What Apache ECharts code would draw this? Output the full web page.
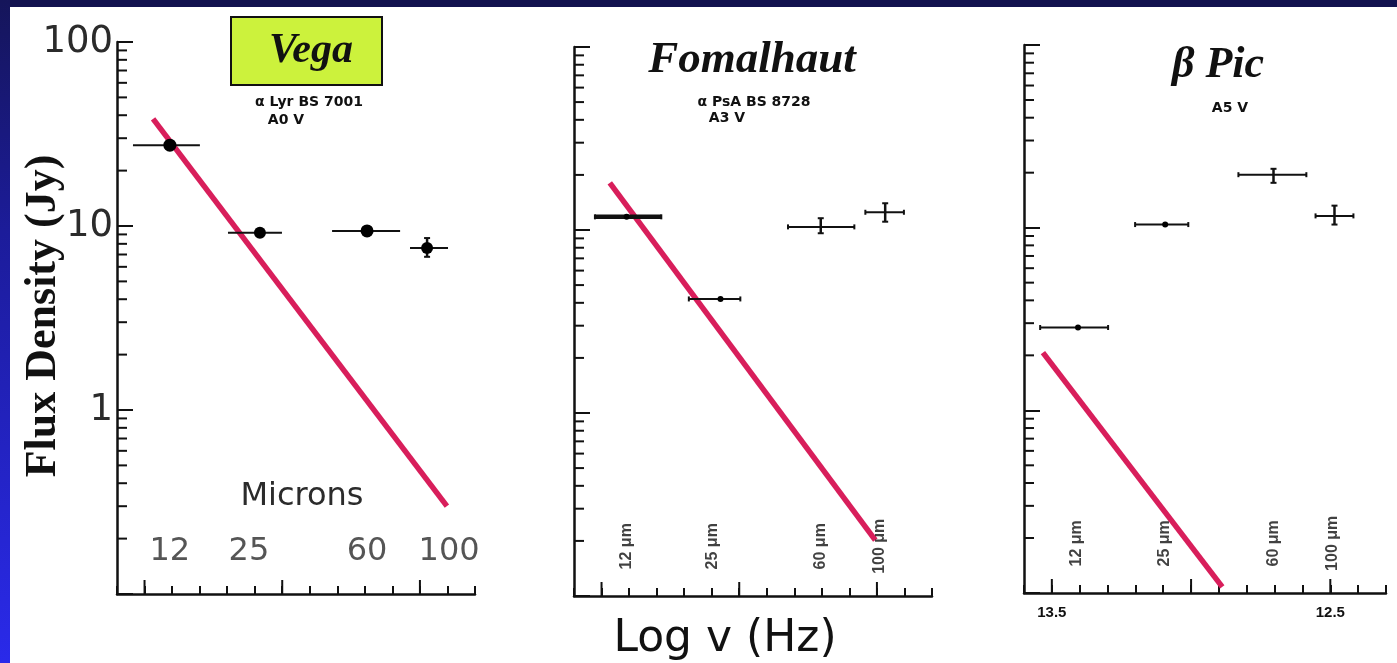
<!DOCTYPE html>
<html><head><meta charset="utf-8">
<script src="https://cdn.jsdelivr.net/npm/echarts@6/dist/echarts.min.js"></script>
<style>html,body{margin:0;padding:0;background:#fff;overflow:hidden}#c{width:1397px;height:663px}</style>
</head><body><div id="c"></div>
<script>
// ---------------- DATA ----------------
// x: log10 frequency (Hz), decreasing to the right; y: flux density (Jy), log scale
const xMin = 12.3, xMax = 13.6;
const yMin = 0.1, yMax = 100;
const yMinorTickValues = [0.2,0.3,0.4,0.5,0.6,0.7,0.8,0.9, 2,3,4,5,6,7,8,9, 20,30,40,50,60,70,80,90];
const xMajorTickValues = [13.5, 13.0, 12.5];
const xLabelValues = [13.5, 12.5];
const xLabelTexts = ['13.5', '12.5'];

const bandLabels = ['12 μm', '25 μm', '60 μm', '100 μm'];
const bandLogNu = [13.41, 13.095, 12.705, 12.49];
const bandLabelFlux = 0.187;

const micronLabels = ['12', '25', '60', '100'];
const micronLabelLogNu = [13.408, 13.121, 12.692, 12.394];
const micronLabelFlux = 0.169;

// Vega
const vegaLogNu      = [13.408, 13.081, 12.692, 12.474];
const vegaLogNuLeft  = [13.542, 13.197, 12.819, 12.536];
const vegaLogNuRight = [13.299, 13.001, 12.572, 12.398];
const vegaFlux       = [27.5, 9.2, 9.4, 7.6];
const vegaFluxLow    = [27.5, 9.2, 9.4, 6.8];
const vegaFluxHigh   = [27.5, 9.2, 9.4, 8.6];
const vegaModelLogNu = [13.469, 12.402];
const vegaModelFlux  = [38.2, 0.30];

// Fomalhaut
const fomLogNu      = [13.409, 13.068, 12.704, 12.470];
const fomLogNuLeft  = [13.524, 13.183, 12.823, 12.542];
const fomLogNuRight = [13.283, 12.996, 12.582, 12.402];
const fomFlux       = [11.8, 4.2, 10.4, 12.5];
const fomFluxLow    = [11.8, 4.2, 9.6, 11.1];
const fomFluxHigh   = [11.8, 4.2, 11.6, 14.0];
const fomModelLogNu = [13.470, 12.506];
const fomModelFlux  = [18.1, 0.202];

// beta Pic
const picLogNu      = [13.406, 13.093, 12.704, 12.485];
const picLogNuLeft  = [13.542, 13.201, 12.830, 12.553];
const picLogNuRight = [13.298, 13.010, 12.586, 12.417];
const picFlux       = [2.84, 10.4, 19.5, 11.6];
const picFluxLow    = [2.84, 10.4, 17.6, 10.4];
const picFluxHigh   = [2.84, 10.4, 21.0, 13.2];
const picModelLogNu = [13.532, 12.888];
const picModelFlux  = [2.07, 0.108];

// ---------------- STYLE ----------------
const INK = '#111';
const GREY = '#2b2b2b';
const RED = '#d81e5b';
const dotSizes = { vega: [13, 12, 13, 12], fom: [6, 6, 0, 0], pic: [6, 6, 0, 0] };
const barWidths = { vega: [2, 2, 2, 2], fom: [4.5, 2, 2, 2], pic: [2, 2, 2, 2] };

function errSeries(idx, c, l, r, f, fl, fh, widths, caps) {
  return {
    type: 'custom', xAxisIndex: idx, yAxisIndex: idx, z: 4, silent: true,
    data: c.map((_, i) => [l[i], r[i], f[i], fl[i], fh[i], i]),
    encode: { x: [0, 1], y: [2, 3, 4] },
    renderItem: (params, api) => {
      const i = api.value(5);
      const y = api.value(2);
      const p1 = api.coord([api.value(0), y]);
      const p2 = api.coord([api.value(1), y]);
      const ch = [{ type: 'line', shape: { x1: p1[0], y1: p1[1], x2: p2[0], y2: p2[1] }, style: { stroke: INK, lineWidth: widths[i] } }];
      if (caps) {
        [p1, p2].forEach(p => ch.push({ type: 'line', shape: { x1: p[0], y1: p[1] - 2.5, x2: p[0], y2: p[1] + 2.5 }, style: { stroke: INK, lineWidth: 2 } }));
      }
      const lo = api.value(3), hi = api.value(4);
      if (lo !== hi) {
        const q1 = api.coord([c[i], lo]), q2 = api.coord([c[i], hi]);
        ch.push({ type: 'line', shape: { x1: q1[0], y1: q1[1], x2: q2[0], y2: q2[1] }, style: { stroke: INK, lineWidth: 2.5 } });
        [q1, q2].forEach(q => ch.push({ type: 'line', shape: { x1: q[0] - 3, y1: q[1], x2: q[0] + 3, y2: q[1] }, style: { stroke: INK, lineWidth: 2 } }));
      }
      return { type: 'group', children: ch };
    }
  };
}
function dotSeries(idx, c, f, sizes) {
  return {
    type: 'scatter', xAxisIndex: idx, yAxisIndex: idx, z: 5, silent: true,
    data: c.map((x, i) => [x, f[i]]),
    symbol: 'circle',
    symbolSize: (v, p) => sizes[p.dataIndex],
    itemStyle: { color: '#000', opacity: 1 }
  };
}
function modelSeries(idx, xs, ys) {
  return {
    type: 'line', xAxisIndex: idx, yAxisIndex: idx, z: 3, silent: true,
    data: xs.map((x, i) => [x, ys[i]]),
    showSymbol: false, symbol: 'none',
    lineStyle: { color: RED, width: 5.5, cap: 'butt' }
  };
}
function minorTickSeries(idx) {
  const data = yMinorTickValues.map(v => [xMax, v, 0]).concat(xMajorTickValues.map(v => [v, yMin, 1]));
  return {
    type: 'custom', xAxisIndex: idx, yAxisIndex: idx, z: 6, silent: true,
    data, encode: { x: 0, y: 1 },
    renderItem: (params, api) => {
      const p = api.coord([api.value(0), api.value(1)]);
      const kind = api.value(2);
      const shape = kind === 0
        ? { x1: p[0], y1: p[1], x2: p[0] + 10, y2: p[1] }
        : { x1: p[0], y1: p[1], x2: p[0], y2: p[1] - 14 };
      return { type: 'line', shape, style: { stroke: INK, lineWidth: 2 } };
    }
  };
}
function bandLabelSeries(idx) {
  return {
    type: 'scatter', xAxisIndex: idx, yAxisIndex: idx, z: 5, silent: true,
    symbolSize: 0,
    data: bandLogNu.map((x, i) => [x, bandLabelFlux, bandLabels[i]]),
    label: { show: true, position: 'inside', rotate: 90, formatter: p => p.value[2],
      fontFamily: 'Liberation Sans', fontWeight: 'bold', fontSize: 16, color: INK }
  };
}

const grids = [
  { left: 117, top: 42, width: 358, height: 552, outerBoundsMode: 'none', containLabel: false },
  { left: 574, top: 47, width: 358, height: 549, outerBoundsMode: 'none', containLabel: false },
  { left: 1024, top: 45, width: 362, height: 548, outerBoundsMode: 'none', containLabel: false }
];
const xAxes = grids.map((g, i) => ({
  type: 'value', gridIndex: i, inverse: true, min: xMin, max: xMax, interval: 0.1,
  axisLine: { show: true, lineStyle: { color: INK, width: 2.5 } },
  axisTick: { show: true, inside: true, length: 8, lineStyle: { color: INK, width: 2 } },
  splitLine: { show: false },
  axisLabel: {
    show: i === 2, margin: 12, fontFamily: 'Liberation Sans', fontWeight: 'bold', fontSize: 15, color: INK,
    showMinLabel: true, showMaxLabel: true, hideOverlap: false,
    formatter: v => { const k = xLabelValues.findIndex(t => Math.abs(t - v) < 1e-6); return k >= 0 ? xLabelTexts[k] : ''; }
  }
}));
const yAxes = grids.map((g, i) => ({
  type: 'log', gridIndex: i, logBase: 10, min: yMin, max: yMax,
  axisLine: { show: true, lineStyle: { color: INK, width: 2.5 } },
  axisTick: { show: true, inside: true, length: 16, lineStyle: { color: INK, width: 2 } },
  splitLine: { show: false },
  axisLabel: {
    show: i === 0, margin: 4, fontFamily: 'DejaVu Sans', fontSize: 37, color: GREY,
    showMinLabel: true, showMaxLabel: true,
    formatter: v => (v >= 1 ? String(Math.round(v)) : '')
  }
}));

function txt(x, y, text, font, fill, rotation) {
  return { type: 'text', x, y, silent: true, rotation: rotation || 0,
    style: { text, font, fill: fill || INK, align: 'center', verticalAlign: 'middle', textAlign: 'center', textVerticalAlign: 'middle' } };
}

const option = {
  backgroundColor: '#ffffff',
  animation: false,
  grid: grids,
  xAxis: xAxes,
  yAxis: yAxes,
  series: [
    modelSeries(0, vegaModelLogNu, vegaModelFlux),
    errSeries(0, vegaLogNu, vegaLogNuLeft, vegaLogNuRight, vegaFlux, vegaFluxLow, vegaFluxHigh, barWidths.vega, false),
    dotSeries(0, vegaLogNu, vegaFlux, dotSizes.vega),
    minorTickSeries(0),
    {
      type: 'scatter', xAxisIndex: 0, yAxisIndex: 0, z: 5, silent: true, symbolSize: 0,
      data: micronLabelLogNu.map((x, i) => [x, micronLabelFlux, micronLabels[i]]),
      label: { show: true, position: 'inside', formatter: p => p.value[2],
        fontFamily: 'DejaVu Sans', fontSize: 32, color: GREY }
    },

    modelSeries(1, fomModelLogNu, fomModelFlux),
    errSeries(1, fomLogNu, fomLogNuLeft, fomLogNuRight, fomFlux, fomFluxLow, fomFluxHigh, barWidths.fom, true),
    dotSeries(1, fomLogNu, fomFlux, dotSizes.fom),
    minorTickSeries(1),
    bandLabelSeries(1),

    modelSeries(2, picModelLogNu, picModelFlux),
    errSeries(2, picLogNu, picLogNuLeft, picLogNuRight, picFlux, picFluxLow, picFluxHigh, barWidths.pic, true),
    dotSeries(2, picLogNu, picFlux, dotSizes.pic),
    minorTickSeries(2),
    bandLabelSeries(2)
  ],
  graphic: [
    { type: 'rect', silent: true, shape: { x: 0, y: 0, width: 1397, height: 7 }, style: { fill: '#12124f' }, z: 10 },
    { type: 'rect', silent: true, shape: { x: 0, y: 0, width: 10, height: 663 }, z: 10,
      style: { fill: { type: 'linear', x: 0, y: 0, x2: 0, y2: 1, colorStops: [
        { offset: 0, color: '#15155a' }, { offset: 0.35, color: '#1c1c9a' }, { offset: 1, color: '#2a2aea' }] } } },
    { type: 'rect', silent: true, shape: { x: 231, y: 17, width: 151, height: 68 }, style: { fill: '#ccf23c', stroke: INK, lineWidth: 2 } },
    txt(311, 51, 'Vega', 'italic bold 42px "Liberation Serif"'),
    txt(309, 102, 'α Lyr BS 7001', 'bold 14px "DejaVu Sans"'),
    txt(286, 120, 'A0 Ⅴ', 'bold 14px "DejaVu Sans"'),
    txt(752, 60, 'Fomalhaut', 'italic bold 45px "Liberation Serif"'),
    txt(754, 102, 'α PsA BS 8728', 'bold 14px "DejaVu Sans"'),
    txt(727, 118, 'A3 Ⅴ', 'bold 14px "DejaVu Sans"'),
    txt(1218, 66, 'β Pic', 'italic bold 44px "Liberation Serif"'),
    txt(1230, 108, 'A5 Ⅴ', 'bold 14px "DejaVu Sans"'),
    txt(302, 497, 'Microns', '32px "DejaVu Sans"', GREY),
    txt(725, 640, 'Log v (Hz)', '44px "DejaVu Sans"'),
    txt(44, 316, 'Flux Density (Jy)', 'bold 44px "Liberation Serif"', INK, Math.PI / 2)
  ]
};
const chart = echarts.init(document.getElementById('c'), null, { renderer: 'canvas' });
chart.setOption(option);
</script>
</body></html>
